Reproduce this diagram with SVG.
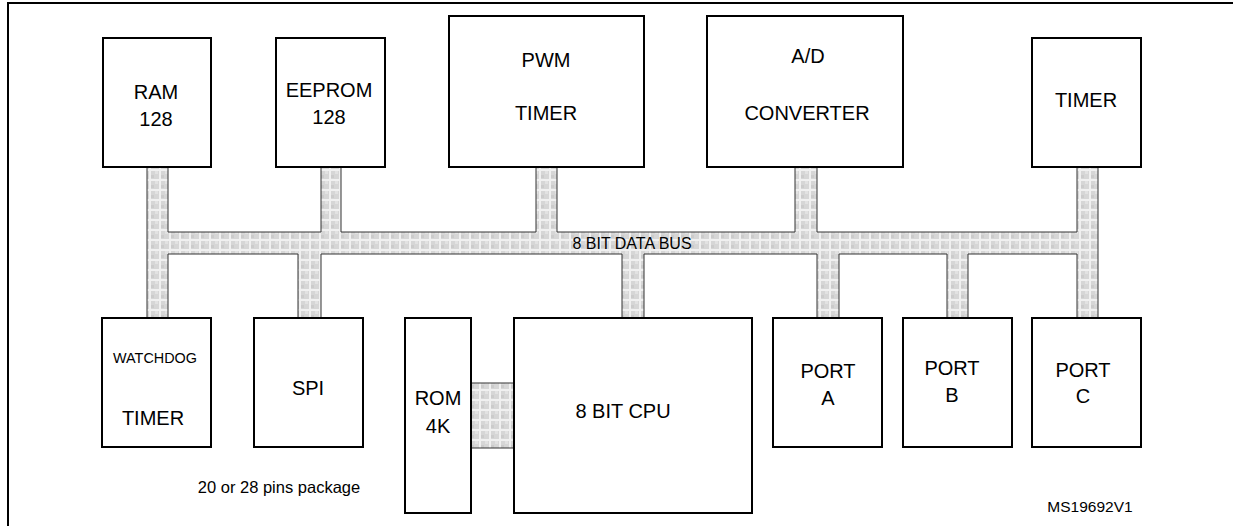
<svg xmlns="http://www.w3.org/2000/svg" width="1233" height="526" viewBox="0 0 1233 526">
<style>
.box{fill:#fff;stroke:#000;stroke-width:2}
.bus{fill:url(#hatch);stroke:#333;stroke-width:1}
.t{font-family:"Liberation Sans",Arial,sans-serif;font-size:20px;fill:#000;text-anchor:middle}
.s{font-size:16px}
.w{font-size:14.4px}
.n{font-size:16.5px}
.m{font-size:15.5px}
</style>
<defs>
<pattern id="hatch" width="10" height="10" patternUnits="userSpaceOnUse">
<rect width="10" height="10" fill="#f0f0f0"/>
<rect x="1" y="1" width="8" height="8" fill="#d6d6d6"/>
<rect x="5" y="1" width="3" height="3" fill="#e2e2e2"/>
<rect x="1" y="5" width="3" height="3" fill="#cbcbcb"/>
</pattern>
</defs>
<rect width="1233" height="526" fill="#fff"/>
<path d="M8,526 V3 H1233" fill="none" stroke="#000" stroke-width="2"/>
<g id="connectors">
<path class="bus" d="M147,167 H168 V232 H321 V167 H341 V232 H536 V167 H557 V232 H795 V167 H817 V232 H1077 V167 H1098 V318 H1077 V254 H968 V318 H947 V254 H839 V318 H817 V254 H644 V318 H622 V254 H321 V318 H298 V254 H168 V318 H147 Z"/>
<rect class="bus" x="471" y="383" width="43" height="65"/>
<text class="t s" x="632" y="249">8 BIT DATA BUS</text>
</g>
<g id="ram"><rect class="box" x="103" y="38" width="108" height="129"/><text class="t" x="156" y="99">RAM</text><text class="t" x="156" y="126">128</text></g>
<g id="eeprom"><rect class="box" x="276" y="38" width="109" height="129"/><text class="t" x="329" y="97">EEPROM</text><text class="t" x="329" y="124">128</text></g>
<g id="pwm"><rect class="box" x="449" y="16" width="195" height="151"/><text class="t" x="546" y="67">PWM</text><text class="t" x="546" y="120">TIMER</text></g>
<g id="adc"><rect class="box" x="707" y="16" width="196" height="151"/><text class="t" x="808" y="63">A/D</text><text class="t" x="807" y="120">CONVERTER</text></g>
<g id="timer"><rect class="box" x="1032" y="38" width="109" height="129"/><text class="t" x="1086" y="107">TIMER</text></g>
<g id="watchdog"><rect class="box" x="102" y="318" width="109" height="129"/><text class="t w" x="155" y="363">WATCHDOG</text><text class="t" x="153" y="425">TIMER</text></g>
<g id="spi"><rect class="box" x="254" y="318" width="109" height="129"/><text class="t" x="308" y="395">SPI</text></g>
<g id="rom"><rect class="box" x="405" y="318" width="66" height="195"/><text class="t" x="438" y="405">ROM</text><text class="t" x="438" y="433">4K</text></g>
<g id="cpu"><rect class="box" x="514" y="318" width="238" height="195"/><text class="t" x="623" y="418">8 BIT CPU</text></g>
<g id="porta"><rect class="box" x="773" y="318" width="109" height="129"/><text class="t" x="828" y="378">PORT</text><text class="t" x="828" y="405">A</text></g>
<g id="portb"><rect class="box" x="903" y="318" width="109" height="129"/><text class="t" x="952" y="375">PORT</text><text class="t" x="952" y="402">B</text></g>
<g id="portc"><rect class="box" x="1032" y="318" width="109" height="129"/><text class="t" x="1083" y="377">PORT</text><text class="t" x="1083" y="403">C</text></g>
<text class="t n" x="279" y="493">20 or 28 pins package</text>
<text class="t m" x="1090" y="512">MS19692V1</text>
</svg>
